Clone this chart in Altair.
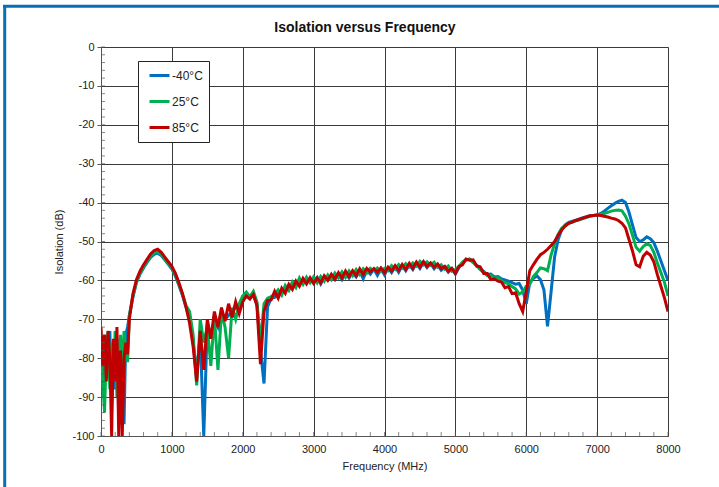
import altair as alt
import pandas as pd

# sampling frequencies (MHz)
FREQ_MHZ = list(range(0, 401, 25)) + list(range(450, 8001, 50))

ISO_M40 = [
    -76, -90, -82, -74, -85, -73, -92, -78, -88, -75, -95, -80, -77, -97, -74, -72, -69,
    -64.4, -60.6, -58.4, -56.8, -55.4, -54.1, -53.3, -53.0, -53.6, -54.7, -55.9, -57.1, -58.9, -61.3, -63.9, -67.0,
    -70, -76, -84, -74, -100, -71, -75, -70, -72, -68, -70, -69, -68, -67, -66.5, -65, -64, -64.5, -64, -66, -78,
    -86.5, -66.8, -64.6, -64.4, -63.2, -63.1, -61.8, -62.4, -60.8, -61.4, -59.8, -60.6, -59.4, -60.4, -60.2,
    -59.2, -60.9, -59.0, -59.9, -58.9, -59.8, -58.4, -59.8, -58.2, -59.4, -57.9, -59.1, -57.6, -59.6, -57.4, -58.4, -57.1, -58.7, -57.0, -58.6,
    -56.8, -58.0, -56.5, -57.9, -56.2, -57.5, -56.0, -57.2, -55.6, -56.9, -55.3, -56.7, -55.6, -57.0, -56.0, -57.4, -56.6, -57.9, -57.0, -58.4,
    -56.7, -55.6, -54.8, -54.5, -55.2, -56.1, -57.0, -57.7, -58.5, -58.4, -59.1, -59.0, -59.6, -59.9, -60.2, -60.6, -61.0, -60.8, -62.5, -66.0,
    -60.5, -59.5, -58.8, -59.8, -62.5, -71.8, -63.0, -54.0, -49.5, -47.0, -45.7, -45.1, -44.8, -44.5, -44.2, -43.9, -43.6, -43.4, -43.3, -43.2,
    -42.8, -42.2, -41.5, -40.8, -40.2, -39.7, -39.4, -40.0, -42.5, -45.8, -49.0, -50.0, -49.6, -48.8, -49.3, -50.3, -52.5, -55.0, -57.5, -60.0,
]

ISO_25 = [
    -80, -86, -94, -78, -73, -88, -76, -84, -73, -90, -79, -74, -85, -73, -78, -81, -69,
    -64.0, -60.3, -58.1, -56.5, -55.1, -53.8, -52.9, -52.6, -53.3, -54.5, -55.6, -56.8, -58.6, -61.0, -63.6, -66.5,
    -68, -74, -87, -70, -76, -72, -82, -69, -83, -68, -72, -80, -67, -70, -66, -64, -63, -64.2, -62.8, -65.5, -76,
    -66, -64.6, -64.2, -63.6, -62.4, -63.8, -61.3, -62.6, -60.4, -61.8, -59.4, -61.0, -59.2, -60.6, -59.1,
    -60.6, -59.0, -60.2, -58.6, -59.8, -58.1, -59.4, -57.8, -59.2, -57.6, -58.8, -57.2, -58.5, -57.0, -58.1, -56.9, -57.5, -56.8, -57.7, -56.9,
    -57.5, -56.2, -57.1, -55.9, -56.8, -55.7, -56.5, -55.5, -56.3, -55.1, -56.0, -55.2, -56.1, -55.3, -56.6, -56.0, -57.1, -56.3, -57.6, -57.2,
    -56.4, -55.3, -54.6, -54.6, -55.4, -56.3, -57.2, -57.9, -58.8, -58.7, -59.5, -59.3, -60.1, -60.6, -60.9, -61.6, -62.2, -63.5, -63.0, -61.5,
    -61.0, -59.0, -58.0, -56.8, -57.0, -57.5, -53.5, -50.5, -48.2, -46.6, -45.8, -45.3, -45.0, -44.7, -44.4, -44.1, -43.8, -43.5, -43.3, -43.2,
    -43.0, -42.8, -42.5, -42.2, -42.0, -41.9, -42.1, -43.5, -45.5, -48.5, -51.5, -52.5, -51.3, -50.6, -51.0, -52.8, -55.5, -58.0, -60.5, -64.0,
]

ISO_85 = [
    -72, -82, -74, -86, -73, -80, -100, -75, -86, -72, -100, -78, -100, -80, -76, -79, -70,
    -63.5, -59.8, -57.6, -56.0, -54.6, -53.2, -52.3, -52.0, -52.8, -54.0, -55.2, -56.4, -58.2, -60.6, -63.4, -66.8,
    -71, -77, -86, -73, -83, -70, -75, -68, -72, -67, -70.5, -66, -69.5, -65.5, -68.5, -65.5, -64, -64.8, -63.6, -66.5, -81.5,
    -68, -65.2, -65.0, -62.8, -64.6, -62.0, -63.3, -61.0, -62.3, -60.2, -61.5, -59.5, -60.9, -59.3, -60.8,
    -59.4, -60.6, -58.8, -60.0, -58.4, -59.7, -58.0, -59.4, -57.6, -59.0, -57.5, -58.8, -57.0, -58.5, -56.9, -57.8, -57.0, -57.9, -56.8, -58.0,
    -56.6, -57.6, -56.2, -57.4, -55.9, -57.2, -55.6, -56.9, -55.3, -56.6, -55.2, -56.4, -55.5, -56.6, -55.8, -57.0, -56.4, -57.6, -56.9, -58.2,
    -56.4, -56.0, -54.5, -54.8, -54.7, -56.3, -56.5, -58.2, -58.2, -59.8, -59.6, -60.2, -60.4, -61.9, -61.6, -63.4, -63.2, -66.0, -68.0, -63.0,
    -57.5, -56.0, -54.6, -53.4, -52.8, -52.0, -51.0, -50.0, -48.4, -47.0, -46.0, -45.3, -45.0, -44.6, -44.3, -44.0, -43.7, -43.4, -43.3, -43.2,
    -43.3, -43.5, -43.7, -44.0, -44.2, -44.6, -45.3, -46.5, -49.5, -52.5, -56.0, -56.5, -53.8, -52.8, -53.5, -55.2, -58.5, -61.5, -64.5, -68.0,
]

SERIES = ["-40°C", "25°C", "85°C"]
COLORS = ["#0070C0", "#00B050", "#C00000"]
X_TICKS = list(range(0, 8001, 1000))
Y_TICKS = list(range(-100, 1, 10))
X_MINOR = list(range(0, 8001, 200))
Y_MINOR = list(range(-100, 1, 2))
TITLE = "Isolation versus Frequency"

rows = []
for name, vals in zip(SERIES, [ISO_M40, ISO_25, ISO_85]):
    for f, v in zip(FREQ_MHZ, vals):
        rows.append({"freq": f, "iso": v, "series": name})
df = pd.DataFrame(rows)

FONT = "Liberation Sans"
x_scale = alt.Scale(domain=[0, 8000], nice=False, zero=False)
y_scale = alt.Scale(domain=[-100, 0], nice=False)

color = alt.Color(
    "series:N",
    scale=alt.Scale(domain=SERIES, range=COLORS),
    legend=alt.Legend(
        title=None, orient="none", legendX=47, legendY=17,
        symbolType="stroke", symbolSize=400, symbolStrokeWidth=3,
        labelFontSize=12, labelFont=FONT, labelColor="#222",
        labelOffset=1, rowPadding=8, padding=0,
    ),
)

x_axis = alt.Axis(
    values=X_TICKS, labelExpr="'' + datum.value", grid=True, gridColor="#3a3a3a", gridWidth=1,
    tickSize=0, labelPadding=7, labelFontSize=11, labelFont=FONT, labelColor="#222",
    labelFlush=False, labelOverlap=False,
    domainColor="#555", title="Frequency (MHz)", titleFont=FONT, titleFontSize=11,
    titleFontWeight="normal", titleColor="#222", titlePadding=6,
)
y_axis = alt.Axis(
    values=Y_TICKS, labelExpr="'' + datum.value", grid=True, gridColor="#3a3a3a", gridWidth=1,
    tickSize=4, tickColor="#555", labelPadding=3, labelFontSize=11, labelFont=FONT,
    labelColor="#222", labelFlush=False, labelOverlap=False,
    domainColor="#555", title="Isolation (dB)", titleFont=FONT,
    titleFontSize=11, titleFontWeight="normal", titleColor="#222", titlePadding=7,
)

X = lambda: alt.X("freq:Q", scale=x_scale, axis=x_axis)
Y = lambda: alt.Y("iso:Q", scale=y_scale, axis=y_axis)

base = alt.Chart(df)
layers = []
for name in SERIES:
    layers.append(
        base.transform_filter(alt.datum.series == name)
        .mark_line(strokeWidth=3, clip=True)
        .encode(x=X(), y=Y(), color=color)
    )

xminor = alt.Chart(pd.DataFrame({"freq": X_MINOR})).mark_tick(
    orient="vertical", size=4, thickness=1, color="#555", yOffset=-2
).encode(x=X(), y=alt.YDatum(-100, scale=y_scale, axis=y_axis))

yminor = alt.Chart(pd.DataFrame({"iso": Y_MINOR})).mark_tick(
    orient="horizontal", size=4, thickness=1, color="#555", xOffset=2
).encode(y=Y(), x=alt.XDatum(0, scale=x_scale, axis=x_axis))

one = pd.DataFrame({"label": [TITLE]})

legend_box = alt.Chart(one).mark_rect(
    fill="white", stroke="#222", strokeWidth=1
).encode(x=alt.value(37.5), x2=alt.value(108.5), y=alt.value(14.5), y2=alt.value(95.5))

title = alt.Chart(one).mark_text(
    font=FONT, fontSize=14, fontWeight="bold", color="#111",
    align="center", baseline="middle", clip=False
).encode(x=alt.value(264), y=alt.value(-19), text="label:N")

frame_top = alt.Chart(one).mark_rule(
    color="#0A6EB4", strokeWidth=3, clip=False
).encode(x=alt.value(-98), x2=alt.value(640), y=alt.value(-40.8))

frame_left = alt.Chart(one).mark_rule(
    color="#0A6EB4", strokeWidth=3, clip=False
).encode(x=alt.value(-96.3), y=alt.value(-42), y2=alt.value(460))

chart = alt.layer(
    *layers, xminor, yminor, legend_box, title, frame_top, frame_left
).properties(
    width=567,
    height=389,
    autosize=alt.AutoSizeParams(type="none"),
    padding={"left": 101, "top": 47, "right": 51, "bottom": 51},
).configure_view(
    stroke="#888", strokeWidth=1.5
).configure(background="white")

chart.save("out.html", embed_options={"renderer": "svg", "actions": False})
